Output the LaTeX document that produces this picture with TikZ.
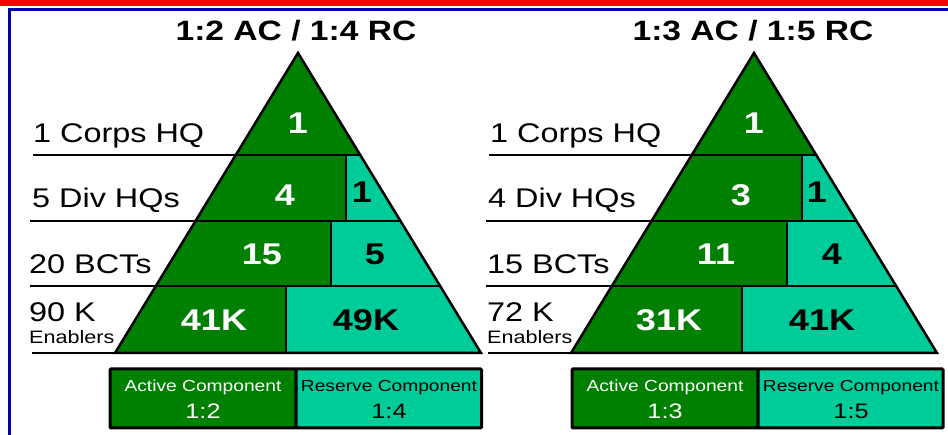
\documentclass[tikz,border=0pt]{standalone}
\usepackage{fontspec}
\setmainfont{Liberation Sans}
\usepackage{graphicx}
\definecolor{acgreen}{RGB}{0,128,0}
\definecolor{rcteal}{RGB}{0,204,153}
\definecolor{framered}{RGB}{255,0,0}
\definecolor{frameblue}{RGB}{0,0,170}
\newcommand{\wx}[1]{\scalebox{1.2}[1]{#1}}
\newcommand{\pyrshape}{%
  \fill[acfill] (0,0) -- (62.2,102) -- (-62.2,102) -- cycle;
  \fill[acfill] (-62.2,102) -- (47.7,102) -- (47.7,168) -- (-102.5,168) -- cycle;
  \fill[rcfill] (47.7,102) -- (62.2,102) -- (102.5,168) -- (47.7,168) -- cycle;
  \fill[acfill] (-102.5,168) -- (33,168) -- (33,233) -- (-142.1,233) -- cycle;
  \fill[rcfill] (33,168) -- (102.5,168) -- (142.1,233) -- (33,233) -- cycle;
  \fill[acfill] (-142.1,233) -- (-12.3,233) -- (-12.3,300) -- (-183,300) -- cycle;
  \fill[rcfill] (-12.3,233) -- (142.1,233) -- (183,300) -- (-12.3,300) -- cycle;
  \draw[leader] (-265,102) -- (-62.2,102);
  \draw[leader] (-268,168) -- (-102.5,168);
  \draw[leader] (-268,233) -- (-142.1,233);
  \draw[leader] (-266,300) -- (-183,300);
  \draw[rowline] (-62.2,102) -- (62.2,102);
  \draw[rowline] (-102.5,168) -- (102.5,168);
  \draw[rowline] (-142.1,233) -- (142.1,233);
  \draw[rowline] (47.7,102) -- (47.7,168);
  \draw[rowline] (33,168) -- (33,233);
  \draw[rowline] (-12.3,233) -- (-12.3,300);
  \draw[edge] (0,0) -- (183,300) -- (-183,300) -- cycle;
}
\begin{document}
\begin{tikzpicture}[x=1pt,y=-1pt,
  lbl/.style={anchor=base west,inner sep=0pt,font=\fontsize{27}{30}\selectfont},
  sublbl/.style={anchor=base west,inner sep=0pt,font=\fontsize{18}{20}\selectfont},
  ttl/.style={anchor=base,inner sep=0pt,font=\fontsize{28}{32}\selectfont\bfseries},
  numw/.style={inner sep=0pt,text=white,font=\fontsize{30}{32}\selectfont\bfseries},
  numb/.style={inner sep=0pt,text=black,font=\fontsize{30}{32}\selectfont\bfseries},
  acfill/.style={fill=acgreen},
  rcfill/.style={fill=rcteal},
  edge/.style={line width=2.5pt,line join=miter},
  rowline/.style={line width=1.6pt},
  leader/.style={line width=1.2pt},
  legbox/.style={draw=black,line width=3pt,rounded corners=1pt},
  legtxtw/.style={anchor=base,inner sep=0pt,text=white,font=\fontsize{16}{18}\selectfont},
  legtxtb/.style={anchor=base,inner sep=0pt,text=black,font=\fontsize{16}{18}\selectfont},
  legnumw/.style={anchor=base,inner sep=0pt,text=white,font=\fontsize{21}{24}\selectfont},
  legnumb/.style={anchor=base,inner sep=0pt,text=black,font=\fontsize{21}{24}\selectfont}]

\useasboundingbox (0,0) rectangle (948,435);
\fill[framered] (0,0) rectangle (948,6);
\draw[frameblue,line width=3pt] (948,9.5) -- (9.5,9.5) -- (9.5,435);

% left pyramid
\begin{scope}[shift={(298,53)}]
  \pyrshape
  \node[ttl] (ttlA) at (-2,-12) {\wx{1:2 AC / 1:4 RC}};
  \node[lbl] (labA1) at (-265,90) {\wx{1 Corps HQ}};
  \node[lbl] (labA2) at (-266,155) {\wx{5 Div HQs}};
  \node[lbl] (labA3) at (-269,221) {\wx{20 BCTs}};
  \node[lbl] (labA4) at (-269,269) {\wx{90 K}};
  \node[sublbl] (labA5) at (-269,291) {\wx{Enablers}};
  \node[numw] (nA1) at (0,70) {\wx{1}};
  \node[numw] (nA2) at (-13,142) {\wx{4}};
  \node[numb] (nA3) at (64,139) {\wx{1}};
  \node[numw] (nA4) at (-36,201) {\wx{15}};
  \node[numb] (nA5) at (77,201) {\wx{5}};
  \node[numw] (nA6) at (-84,267) {\wx{41K}};
  \node[numb] (nA7) at (68,267) {\wx{49K}};
\end{scope}

% right pyramid
\begin{scope}[shift={(754,53)}]
  \pyrshape
  \node[ttl] (ttlB) at (-1,-12) {\wx{1:3 AC / 1:5 RC}};
  \node[lbl] (labB1) at (-264,90) {\wx{1 Corps HQ}};
  \node[lbl] (labB2) at (-266,155) {\wx{4 Div HQs}};
  \node[lbl] (labB3) at (-267,221) {\wx{15 BCTs}};
  \node[lbl] (labB4) at (-267,269) {\wx{72 K}};
  \node[sublbl] (labB5) at (-267,291) {\wx{Enablers}};
  \node[numw] (nB1) at (0,70) {\wx{1}};
  \node[numw] (nB2) at (-13,142) {\wx{3}};
  \node[numb] (nB3) at (63,139) {\wx{1}};
  \node[numw] (nB4) at (-38,201) {\wx{11}};
  \node[numb] (nB5) at (78,201) {\wx{4}};
  \node[numw] (nB6) at (-85,267) {\wx{31K}};
  \node[numb] (nB7) at (68,267) {\wx{41K}};
\end{scope}

% legends
\path[fill=acgreen,legbox] (110,369) rectangle (296,428);
\path[fill=rcteal,legbox] (296,369) rectangle (481.5,428);
\node[legtxtw] (legA1) at (203,392) {\wx{Active Component}};
\node[legnumw] (legA2) at (203,419) {\wx{1:2}};
\node[legtxtb] (legA3) at (389,392) {\wx{Reserve Component}};
\node[legnumb] (legA4) at (389,419) {\wx{1:4}};

\path[fill=acgreen,legbox] (572,369) rectangle (758,428);
\path[fill=rcteal,legbox] (758,369) rectangle (943,428);
\node[legtxtw] (legB1) at (665,392) {\wx{Active Component}};
\node[legnumw] (legB2) at (665,419) {\wx{1:3}};
\node[legtxtb] (legB3) at (851,392) {\wx{Reserve Component}};
\node[legnumb] (legB4) at (851,419) {\wx{1:5}};
\end{tikzpicture}
\end{document}
